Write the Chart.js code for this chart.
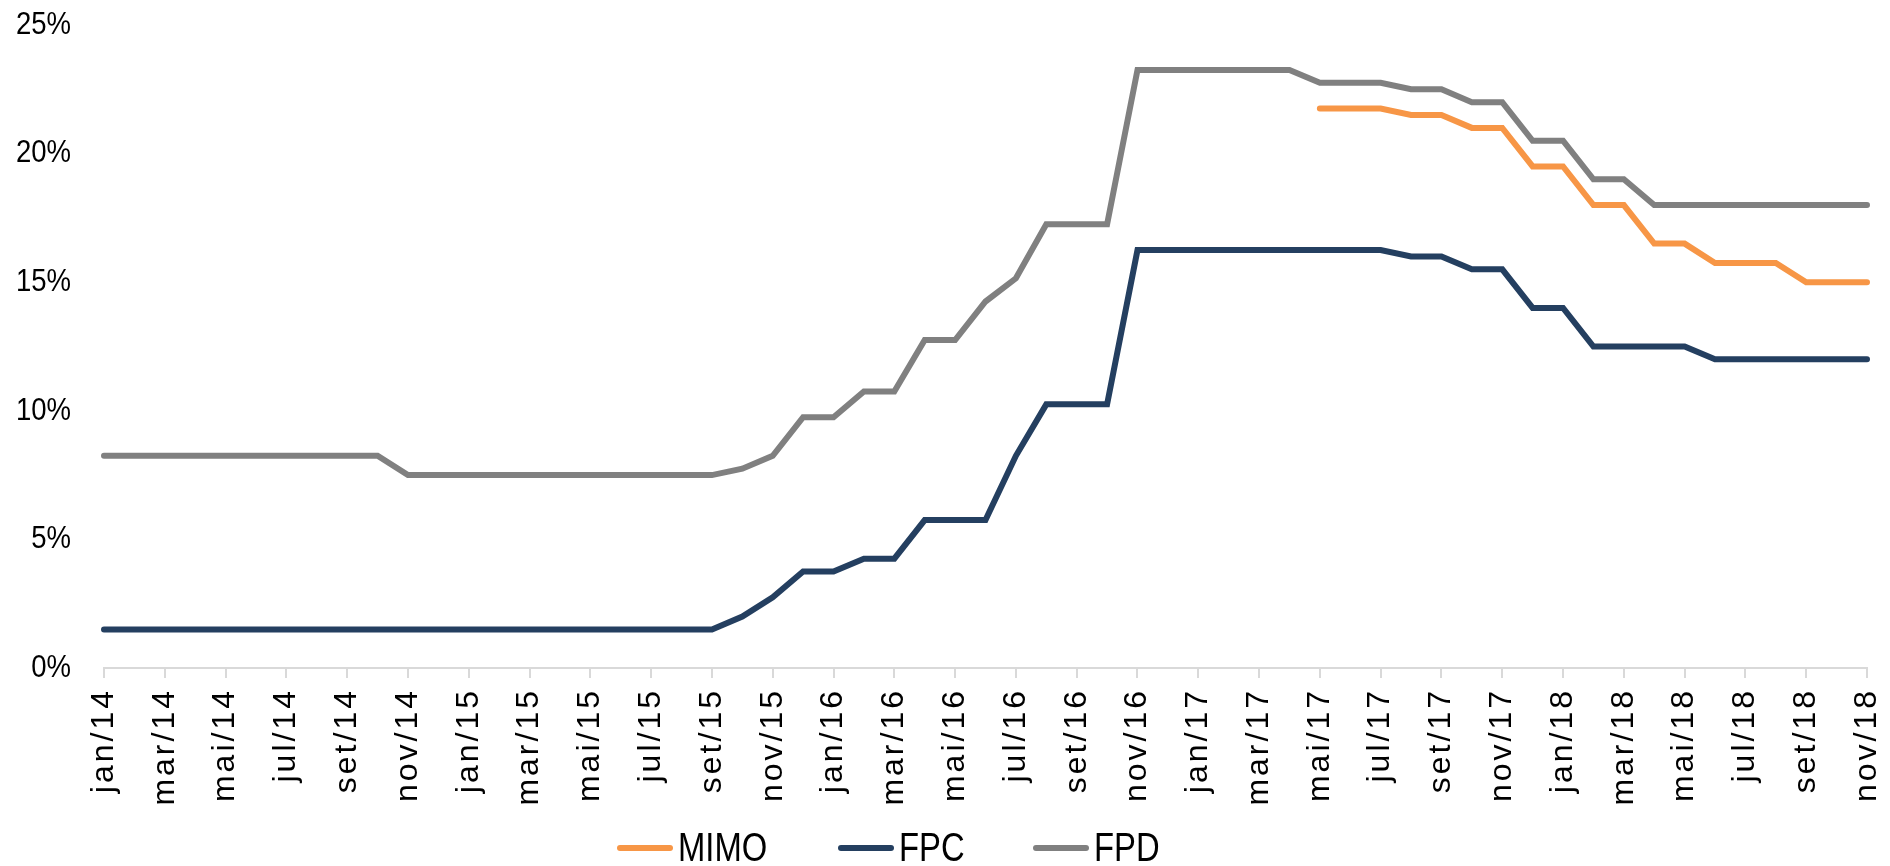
<!DOCTYPE html>
<html>
<head>
<meta charset="utf-8">
<script src="https://cdn.jsdelivr.net/npm/chart.js@4.4.1/dist/chart.umd.min.js"></script>
<style>
  html, body { margin: 0; padding: 0; background: #fff; }
  #wrap { position: relative; width: 1890px; height: 866px; }
  #legend .item {
    position: absolute; top: 827px; height: 41px;
    display: flex; align-items: center; white-space: nowrap;
    font-family: 'Liberation Sans', Arial, sans-serif;
    font-size: 41px; line-height: 41px; color: #000;
  }
  #legend .swatch { width: 56px; height: 6px; border-radius: 3px; margin-right: 5px; }
  #legend .txt { display: inline-block; transform: scaleX(0.8); transform-origin: left center; }
</style>
</head>
<body>
<div id="wrap">
  <canvas id="juros"></canvas>
  <div id="legend"></div>
</div>
<script>
// meses jan/14 .. nov/18
const months = [
  "jan/14","fev/14","mar/14","abr/14","mai/14","jun/14","jul/14","ago/14","set/14","out/14","nov/14","dez/14",
  "jan/15","fev/15","mar/15","abr/15","mai/15","jun/15","jul/15","ago/15","set/15","out/15","nov/15","dez/15",
  "jan/16","fev/16","mar/16","abr/16","mai/16","jun/16","jul/16","ago/16","set/16","out/16","nov/16","dez/16",
  "jan/17","fev/17","mar/17","abr/17","mai/17","jun/17","jul/17","ago/17","set/17","out/17","nov/17","dez/17",
  "jan/18","fev/18","mar/18","abr/18","mai/18","jun/18","jul/18","ago/18","set/18","out/18","nov/18"
];

const mimo = [
  null, null, null, null, null, null, null, null, null, null, null, null,
  null, null, null, null, null, null, null, null, null, null, null, null,
  null, null, null, null, null, null, null, null, null, null, null, null,
  null, null, null, null, 21.75, 21.75, 21.75, 21.5, 21.5, 21, 21, 19.5,
  19.5, 18, 18, 16.5, 16.5, 15.75, 15.75, 15.75, 15, 15, 15
];

const fpc = [
  1.5, 1.5, 1.5, 1.5, 1.5, 1.5, 1.5, 1.5, 1.5, 1.5, 1.5, 1.5,
  1.5, 1.5, 1.5, 1.5, 1.5, 1.5, 1.5, 1.5, 1.5, 2, 2.75, 3.75,
  3.75, 4.25, 4.25, 5.75, 5.75, 5.75, 8.25, 10.25, 10.25, 10.25, 16.25, 16.25,
  16.25, 16.25, 16.25, 16.25, 16.25, 16.25, 16.25, 16, 16, 15.5, 15.5, 14,
  14, 12.5, 12.5, 12.5, 12.5, 12, 12, 12, 12, 12, 12
];

const fpd = [
  8.25, 8.25, 8.25, 8.25, 8.25, 8.25, 8.25, 8.25, 8.25, 8.25, 7.5, 7.5,
  7.5, 7.5, 7.5, 7.5, 7.5, 7.5, 7.5, 7.5, 7.5, 7.75, 8.25, 9.75,
  9.75, 10.75, 10.75, 12.75, 12.75, 14.25, 15.15, 17.25, 17.25, 17.25, 23.25, 23.25,
  23.25, 23.25, 23.25, 23.25, 22.75, 22.75, 22.75, 22.5, 22.5, 22, 22, 20.5,
  20.5, 19, 19, 18, 18, 18, 18, 18, 18, 18, 18
];

const yMin = 0, yMax = 25, yStep = 5;

// eixo x: rótulos com um pouco de espaçamento entre letras
class SpacedCategoryScale extends Chart.CategoryScale {
  drawLabels(area) {
    const ctx = this.ctx;
    ctx.save();
    ctx.letterSpacing = "3px";
    super.drawLabels(area);
    ctx.restore();
  }
}
SpacedCategoryScale.id = "spacedCategory";
SpacedCategoryScale.defaults = Chart.CategoryScale.defaults;

// eixo y: rótulos condensados (tipo Arial Narrow)
class NarrowLinearScale extends Chart.LinearScale {
  drawLabels(area) {
    const ctx = this.ctx;
    const px = this.right - this.options.ticks.padding;
    ctx.save();
    ctx.translate(px, 0);
    ctx.scale(0.86, 1);
    ctx.translate(-px, 0);
    super.drawLabels(area);
    ctx.restore();
  }
}
NarrowLinearScale.id = "narrowLinear";
NarrowLinearScale.defaults = Chart.LinearScale.defaults;

Chart.register(SpacedCategoryScale, NarrowLinearScale);

const chart = new Chart(document.getElementById("juros"), {
  type: "line",
  data: {
    labels: months,
    datasets: [
      { label: "MIMO", data: mimo, borderColor: "#f79646" },
      { label: "FPC", data: fpc, borderColor: "#243f60" },
      { label: "FPD", data: fpd, borderColor: "#808080" }
    ].map(ds => Object.assign(ds, {
      backgroundColor: ds.borderColor,
      borderWidth: 6,
      borderCapStyle: "round",
      pointRadius: 0,
      tension: 0,
      fill: false
    }))
  },
  options: {
    responsive: true,
    maintainAspectRatio: false,
    animation: false,
    devicePixelRatio: 1,
    layout: { padding: { top: 25, right: 23, left: 0, bottom: 0 } },
    plugins: { legend: { display: false }, tooltip: { enabled: false } },
    scales: {
      x: {
        type: "spacedCategory",
        grid: {
          drawOnChartArea: false,
          drawTicks: true,
          tickLength: 10,
          lineWidth: 2,
          color: c => (c.index % 2 === 0 ? "#d9d9d9" : "rgba(0,0,0,0)")
        },
        border: { display: true, color: "#d9d9d9", width: 2 },
        ticks: {
          autoSkip: false,
          minRotation: 90,
          maxRotation: 90,
          padding: 10,
          color: "#000",
          font: { family: "'Liberation Sans', Arial, sans-serif", size: 32 },
          callback: (v, i) => (i % 2 === 0 ? months[i] : "")
        },
        afterFit: s => {
          s.height = 198;
          s.paddingLeft = 0;
          s.paddingRight = 0;
        }
      },
      y: {
        type: "narrowLinear",
        min: yMin,
        max: yMax,
        grid: { display: false, drawTicks: false },
        border: { display: false },
        ticks: {
          stepSize: yStep,
          padding: 33,
          color: "#000",
          font: { family: "'Liberation Sans', Arial, sans-serif", size: 32 },
          callback: v => v + "%"
        },
        afterFit: s => {
          s.width = 104;
          s.paddingTop = 0;
          s.paddingBottom = 0;
        }
      }
    }
  }
});

// legenda em html, montada a partir dos datasets
const legendLeft = [617, 838, 1033];
const legendBox = document.getElementById("legend");
chart.data.datasets.forEach((ds, i) => {
  const item = document.createElement("div");
  item.className = "item";
  item.style.left = legendLeft[i] + "px";
  const sw = document.createElement("span");
  sw.className = "swatch";
  sw.style.background = ds.borderColor;
  const txt = document.createElement("span");
  txt.className = "txt";
  txt.textContent = ds.label;
  item.appendChild(sw);
  item.appendChild(txt);
  legendBox.appendChild(item);
});
</script>
</body>
</html>
